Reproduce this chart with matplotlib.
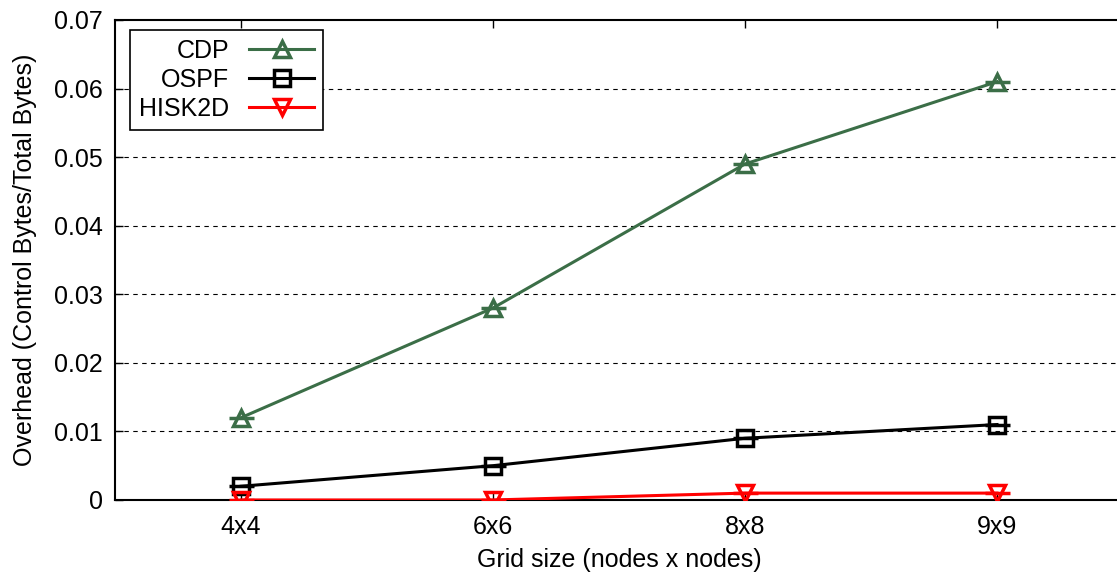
import matplotlib.pyplot as plt
import numpy as np

plt.rcParams['font.family'] = ['Liberation Sans', 'DejaVu Sans']

grid_sizes = ['4x4', '6x6', '8x8', '9x9']
cdp = [0.012, 0.028, 0.049, 0.061]
ospf = [0.002, 0.005, 0.009, 0.011]
hisk2d = [0.0, 0.0, 0.001, 0.001]

x = np.arange(1, len(grid_sizes) + 1)

fig = plt.figure(figsize=(11.17, 5.78), dpi=100)
ax = fig.add_axes([0.103, 0.135, 0.9024, 0.8304])

series = [
    ('CDP', cdp, '#3b6e47', '^'),
    ('OSPF', ospf, 'black', 's'),
    ('HISK2D', hisk2d, 'red', 'v'),
]
for name, vals, col, mk in series:
    ax.plot(x, vals, color=col, lw=2.2, marker=mk, markersize=11,
            markerfacecolor='none', markeredgewidth=2.5, label=name, zorder=3)
    # short horizontal caps at each point
    ax.plot(x, vals, ls='none', marker='_', markersize=18,
            markeredgewidth=2.5, color=col, zorder=3)

ax.set_xlim(0.5, 4.5)
ax.set_ylim(0, 0.07)
ax.set_xticks(x)
ax.set_xticklabels(grid_sizes)
ax.set_yticks(np.arange(0, 0.071, 0.01))
ax.set_yticklabels(['0'] + ['%.2f' % v for v in np.arange(0.01, 0.071, 0.01)])
ax.tick_params(direction='in', length=6, width=1, labelsize=18, pad=9)
ax.tick_params(axis='x', top=True, pad=11)

for yv in np.arange(0.01, 0.07, 0.01):
    ax.axhline(yv, color='black', lw=0.8, ls=(0, (4, 4)), zorder=1)

for s in ax.spines.values():
    s.set_linewidth(1.5)

ax.set_xlabel('Grid size (nodes x nodes)', fontsize=18, labelpad=6)
ax.set_ylabel('Overhead (Control Bytes/Total Bytes)', fontsize=18, labelpad=12)

leg = ax.legend(loc='upper left', bbox_to_anchor=(0.015, 0.979), fontsize=18,
                borderaxespad=0, markerfirst=False, fancybox=False,
                edgecolor='black', framealpha=1, handlelength=2.6,
                borderpad=0.35, labelspacing=0.2, handletextpad=0.8)
leg.get_frame().set_linewidth(1.2)
for t in leg.get_texts():
    t.set_ha('right')
leg._legend_box.align = 'right'

fig.savefig('out.png', dpi=100)
